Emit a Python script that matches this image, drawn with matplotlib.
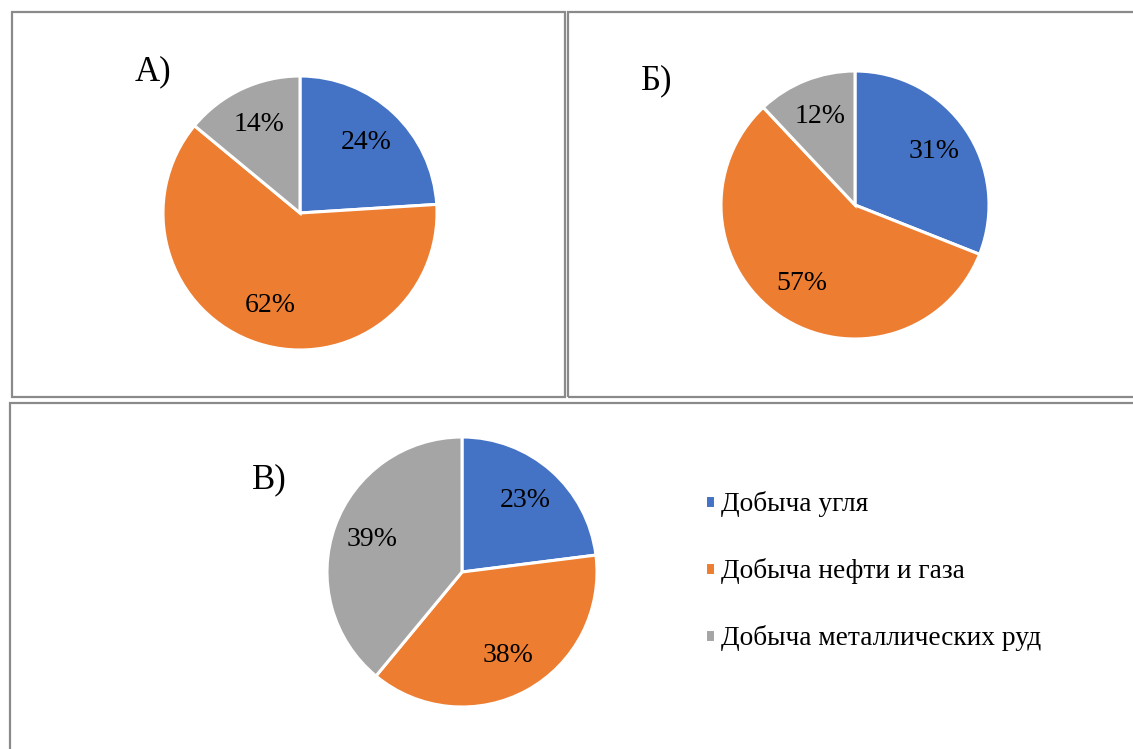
import matplotlib
matplotlib.use('Agg')
import matplotlib.pyplot as plt
from matplotlib.patches import Rectangle

plt.rcParams['font.family'] = ['Liberation Serif', 'DejaVu Serif']

# data
categories = ['Добыча угля', 'Добыча нефти и газа', 'Добыча металлических руд']
share_a = [24, 62, 14]
share_b = [31, 57, 12]
share_c = [23, 38, 39]
panel_titles = ['А)', 'Б)', 'В)']

colors = ['#4472C4', '#ED7D31', '#A5A5A5']

W, H = 1133, 749
fig = plt.figure(figsize=(W / 100, H / 100), dpi=100)


def px_box(x0, y0, x1, y1):
    # pixel box (from top-left) -> figure fraction rect
    return [x0 / W, (H - y1) / H, (x1 - x0) / W, (y1 - y0) / H]


# panel frames
for x0, y0, x1, y1 in [(12, 12, 565, 397), (568, 12, 1140, 397), (10, 403, 1140, 760)]:
    l, b, w, h = px_box(x0, y0, x1, y1)
    fig.add_artist(Rectangle((l, b), w, h, transform=fig.transFigure,
                             fill=False, edgecolor='#8a8a8a', linewidth=1.6))


def draw_pie(cx, cy, r, values):
    ax = fig.add_axes(px_box(cx - r, cy - r, cx + r, cy + r))
    wedges, _, _ = ax.pie(values, colors=colors, startangle=90, counterclock=False,
                          autopct='%1.0f%%', pctdistance=0.71, radius=1,
                          wedgeprops=dict(edgecolor='white', linewidth=2.2),
                          textprops=dict(fontsize=20, color='black'))
    ax.set_xlim(-1, 1)
    ax.set_ylim(-1, 1)
    ax.set_aspect('equal')
    ax.axis('off')
    return wedges


draw_pie(300, 213, 137, share_a)
draw_pie(855, 205, 134, share_b)
wedges = draw_pie(462, 572, 135, share_c)

# panel letters
for (x, y), t in zip([(153, 72), (657, 81), (269, 480)], panel_titles):
    fig.text(x / W, (H - y) / H, t, fontsize=25, ha='center', va='center')

fig.legend(wedges, categories, loc='center left',
           bbox_to_anchor=(705 / W, (H - 571) / H), frameon=False,
           fontsize=19.7, handlelength=0.35, handleheight=0.35,
           handletextpad=0.25, labelspacing=1.5, borderpad=0, borderaxespad=0)

fig.savefig('out.png', dpi=100)
